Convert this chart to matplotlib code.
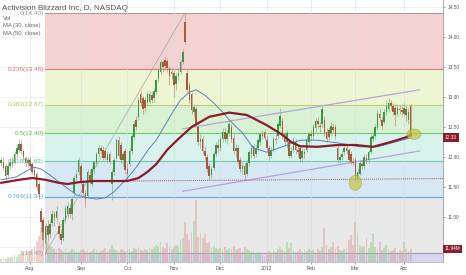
import matplotlib
matplotlib.use("Agg")
import matplotlib.pyplot as plt
import matplotlib.transforms as mtransforms
from matplotlib.patches import Ellipse
import numpy as np
import pandas as pd

plt.rcParams['font.family'] = ['Liberation Sans', 'DejaVu Sans']

# торговые дни 13.07.2011 - 05.04.2012
holidays = ['2011-09-05', '2011-11-24', '2011-12-26', '2012-01-02', '2012-01-16', '2012-02-20']
days = pd.bdate_range('2011-07-13', '2012-04-05', freq='C', holidays=holidays)

opens = [11.90, 11.92, 11.85, 11.70, 11.85, 11.92, 11.90, 12.05, 12.12, 12.22,
         12.10, 11.98, 11.90, 11.95, 11.88, 11.78, 11.72, 11.55, 11.10, 10.95,
         10.55, 10.85, 10.72, 10.90, 11.05, 10.98, 10.85, 10.72, 10.65, 10.95,
         11.05, 11.15, 11.05, 11.40, 11.65, 11.75, 11.85, 11.55, 11.40, 11.35,
         11.70, 11.55, 11.80, 11.90, 12.05, 12.15, 12.12, 12.10, 11.95, 12.05,
         11.55, 11.75, 11.98, 12.28, 12.20, 11.95, 12.10, 11.80, 11.88, 12.10,
         12.33, 12.62, 12.67, 13.05, 12.98, 12.95, 12.90, 12.92, 13.03, 12.98,
         13.08, 13.30, 13.42, 13.58, 13.62, 13.60, 13.48, 13.38, 13.40, 13.22,
         13.35, 13.42, 13.58, 14.25, 13.40, 13.20, 13.05, 12.75, 12.80, 12.50,
         12.25, 12.30, 12.10, 12.00, 11.85, 11.70, 11.82, 12.05, 12.20, 12.15,
         12.30, 12.42, 12.30, 12.40, 12.50, 12.32, 12.10, 12.15, 11.95, 11.80,
         11.85, 11.72, 11.90, 12.05, 12.18, 12.05, 12.15, 12.25, 12.38, 12.42,
         12.28, 12.15, 12.02, 12.12, 12.30, 12.35, 12.52, 12.60, 12.38, 12.25,
         12.25, 12.02, 12.12, 12.25, 12.12, 12.15, 11.98, 12.08, 12.12, 12.25,
         12.38, 12.35, 12.48, 12.60, 12.52, 12.55, 12.62, 12.42, 12.45, 12.40,
         12.50, 12.50, 12.15, 11.95, 12.00, 12.08, 12.15, 12.12, 12.05, 11.92,
         11.95, 11.62, 11.72, 11.88, 11.85, 11.98, 11.95, 12.08, 12.30, 12.35,
         12.48, 12.72, 12.62, 12.58, 12.75, 12.80, 12.90, 12.85, 12.82, 12.72,
         12.80, 12.78, 12.72, 12.80, 12.62, 12.85]
highs = [12.00, 11.98, 11.88, 11.90, 11.98, 12.00, 12.10, 12.22, 12.30, 12.28,
         12.14, 12.02, 12.00, 12.00, 11.92, 11.85, 11.75, 11.60, 11.15, 11.00,
         10.90, 10.95, 10.95, 11.12, 11.10, 11.18, 10.92, 10.80, 11.00, 11.20,
         11.25, 11.22, 11.35, 11.70, 11.78, 12.00, 11.90, 11.62, 11.45, 11.80,
         11.78, 11.85, 11.95, 12.08, 12.20, 12.20, 12.18, 12.15, 12.10, 12.08,
         11.80, 12.00, 12.32, 12.35, 12.25, 12.10, 12.15, 11.90, 12.15, 12.40,
         12.60, 12.68, 13.00, 13.10, 13.02, 13.00, 13.10, 13.10, 13.08, 13.15,
         13.30, 13.50, 13.62, 13.62, 13.66, 13.64, 13.52, 13.50, 13.45, 13.40,
         13.48, 13.62, 13.80, 14.40, 13.45, 13.25, 13.08, 12.88, 12.85, 12.55,
         12.38, 12.35, 12.18, 12.05, 11.90, 11.85, 12.10, 12.25, 12.30, 12.35,
         12.48, 12.50, 12.45, 12.62, 12.55, 12.38, 12.22, 12.20, 12.00, 11.92,
         11.90, 11.95, 12.12, 12.20, 12.22, 12.20, 12.32, 12.42, 12.45, 12.46,
         12.35, 12.20, 12.18, 12.35, 12.38, 12.60, 12.82, 12.65, 12.42, 12.45,
         12.30, 12.18, 12.33, 12.30, 12.22, 12.20, 12.15, 12.14, 12.35, 12.42,
         12.45, 12.55, 12.65, 12.66, 12.58, 12.85, 12.68, 12.48, 12.50, 12.58,
         12.55, 12.55, 12.20, 12.05, 12.10, 12.20, 12.20, 12.15, 12.10, 11.98,
         12.00, 11.80, 11.95, 11.95, 12.05, 12.05, 12.12, 12.38, 12.42, 12.55,
         12.78, 12.80, 12.66, 12.80, 12.95, 12.98, 12.95, 12.90, 12.88, 12.88,
         12.86, 12.85, 12.90, 12.85, 12.82, 12.88]
lows = [11.85, 11.78, 11.62, 11.66, 11.80, 11.84, 11.88, 12.00, 12.08, 12.05,
        11.95, 11.85, 11.84, 11.80, 11.72, 11.65, 11.45, 11.30, 10.75, 10.48,
        10.40, 10.60, 10.65, 10.85, 10.85, 10.90, 10.65, 10.55, 10.60, 10.90,
        10.98, 10.98, 10.95, 11.35, 11.58, 11.70, 11.55, 11.35, 11.17, 11.32,
        11.55, 11.50, 11.72, 11.85, 12.00, 12.05, 11.95, 11.95, 11.90, 11.88,
        11.28, 11.70, 11.95, 11.98, 11.90, 11.85, 11.72, 11.60, 11.85, 12.05,
        12.30, 12.45, 12.62, 12.85, 12.72, 12.75, 12.85, 12.88, 12.90, 12.92,
        13.05, 13.25, 13.38, 13.42, 13.45, 13.42, 13.20, 13.30, 13.00, 13.12,
        13.28, 13.38, 13.55, 13.88, 13.08, 12.90, 12.72, 12.68, 12.50, 12.20,
        12.15, 12.05, 11.95, 11.75, 11.62, 11.65, 11.78, 12.00, 12.08, 12.10,
        12.25, 12.25, 12.22, 12.35, 12.25, 12.05, 12.00, 11.88, 11.75, 11.72,
        11.62, 11.68, 11.85, 11.98, 11.98, 12.00, 12.10, 12.20, 12.30, 12.28,
        12.12, 11.95, 11.98, 12.08, 12.22, 12.30, 12.48, 12.30, 12.18, 12.15,
        11.98, 11.98, 12.08, 12.05, 12.00, 11.92, 11.92, 11.98, 12.08, 12.20,
        12.28, 12.30, 12.42, 12.48, 12.42, 12.50, 12.35, 12.25, 12.28, 12.35,
        12.40, 12.30, 11.90, 11.90, 11.95, 12.03, 12.05, 11.90, 11.88, 11.85,
        11.58, 11.58, 11.70, 11.80, 11.80, 11.90, 11.90, 12.05, 12.25, 12.30,
        12.45, 12.60, 12.45, 12.55, 12.70, 12.75, 12.80, 12.70, 12.52, 12.68,
        12.72, 12.70, 12.68, 12.60, 12.55, 12.30]
closes = [11.95, 11.82, 11.68, 11.85, 11.92, 11.88, 12.05, 12.15, 12.22, 12.10,
          12.00, 11.90, 11.95, 11.85, 11.75, 11.70, 11.50, 11.38, 10.92, 10.62,
          10.85, 10.70, 10.88, 11.05, 10.98, 11.10, 10.72, 10.62, 10.95, 11.15,
          11.18, 11.05, 11.30, 11.65, 11.72, 11.95, 11.60, 11.40, 11.30, 11.75,
          11.58, 11.80, 11.92, 12.05, 12.15, 12.10, 11.98, 11.98, 12.05, 11.92,
          11.75, 11.95, 12.28, 12.02, 11.95, 12.05, 11.78, 11.72, 12.10, 12.35,
          12.55, 12.50, 12.95, 12.90, 12.80, 12.82, 13.05, 13.05, 12.95, 13.10,
          13.28, 13.45, 13.58, 13.50, 13.52, 13.48, 13.35, 13.42, 13.20, 13.35,
          13.40, 13.58, 13.75, 13.92, 13.12, 12.95, 12.78, 12.83, 12.55, 12.25,
          12.30, 12.10, 12.02, 11.80, 11.68, 11.80, 12.05, 12.20, 12.15, 12.30,
          12.42, 12.30, 12.40, 12.55, 12.30, 12.10, 12.15, 11.92, 11.80, 11.85,
          11.70, 11.90, 12.08, 12.15, 12.02, 12.15, 12.28, 12.38, 12.35, 12.32,
          12.15, 12.02, 12.10, 12.30, 12.28, 12.55, 12.68, 12.35, 12.25, 12.40,
          12.02, 12.10, 12.28, 12.12, 12.08, 11.97, 12.10, 12.05, 12.30, 12.38,
          12.35, 12.50, 12.60, 12.55, 12.50, 12.80, 12.40, 12.30, 12.33, 12.52,
          12.45, 12.35, 11.95, 12.00, 12.05, 12.15, 12.10, 11.95, 11.92, 11.90,
          11.62, 11.75, 11.90, 11.85, 12.00, 11.95, 12.08, 12.33, 12.35, 12.50,
          12.73, 12.65, 12.52, 12.75, 12.85, 12.90, 12.85, 12.75, 12.70, 12.82,
          12.78, 12.75, 12.82, 12.70, 12.75, 12.33]
volumes = [3, 4, 3, 5, 4, 5, 6, 5, 7, 6, 8, 7, 9,
           10, 12, 15, 18, 24, 32, 28, 22,
           18, 15, 14, 12, 11, 13, 12, 10, 11, 9, 10, 12, 11, 10, 9, 11,
           12, 10, 11, 9, 10, 12, 11, 9, 10, 11, 13, 10, 12, 16, 12, 11, 10, 12, 11, 10,
           11, 12, 10, 13, 12, 14, 11, 10, 12, 11, 13, 12, 14, 16, 15, 18, 14, 13, 17, 15, 12,
           14, 16, 15, 20, 22, 37, 26, 20, 28, 38, 57, 23, 27, 22, 26, 17, 18, 14, 15, 13, 12,
           13, 12, 14, 11, 13, 12, 15, 11, 12, 13, 10, 14, 12, 11, 9, 10, 8, 9, 7, 6, 5,
           9, 10, 8, 11, 9, 12, 14, 11, 10, 18, 13, 17, 11, 9, 10, 12, 9, 11, 10, 12,
           10, 11, 9, 12, 10, 14, 31, 16, 12, 14, 18, 12, 15, 11, 10, 12, 13, 20, 25, 16,
           37, 27, 16, 14, 15, 22, 13, 18, 27, 14, 12, 18, 11, 13, 16, 12, 10, 11, 13, 9,
           11, 10, 18, 12, 10, 11.94]

# скользящие средние (номер бара, значение)
ma30_at = [0, 7, 12, 15, 18, 22, 28, 34, 39, 43, 47, 51, 57, 61, 67, 70, 74, 78, 81,
           85, 88, 92, 96, 100, 103, 109, 114, 120, 127, 135, 143, 153, 162, 170, 176, 185]
ma30 = [11.62, 11.67, 11.78, 11.83, 11.80, 11.70, 11.53, 11.37, 11.32, 11.30, 11.32,
        11.42, 11.65, 11.83, 12.15, 12.28, 12.53, 12.78, 12.95, 13.08, 13.12, 13.03,
        12.90, 12.75, 12.62, 12.40, 12.15, 12.08, 12.17, 12.28, 12.28, 12.23, 12.17,
        12.17, 12.23, 12.32]
ma50_at = [0, 8, 14, 20, 26, 30, 35, 42, 50, 57, 62, 66, 70, 75, 80, 86, 94, 103,
           111, 120, 127, 131, 135, 143, 152, 160, 168, 176, 183, 185]
ma50 = [11.57, 11.62, 11.65, 11.62, 11.57, 11.55, 11.58, 11.60, 11.60, 11.60, 11.65,
        11.75, 11.88, 12.12, 12.30, 12.50, 12.67, 12.74, 12.70, 12.53, 12.37, 12.25,
        12.18, 12.17, 12.20, 12.20, 12.17, 12.25, 12.33, 12.37]

fib_levels = ['0', '0.236', '0.382', '0.5', '0.618', '0.764', '1']
fib_prices = [14.40, 13.46, 12.87, 12.40, 11.93, 11.34, 10.40]
band_colors = ['#f4d2d2', '#eef5d3', '#d8f2d3', '#d8f3eb', '#d6e8f4', '#e8e8e8']
line_colors = ['#a0a0a0', '#e07a7a', '#b8d46c', '#6ccb6c', '#6dccb0', '#64aad9', '#a0a0a0']
label_colors = ['#9a9a9a', '#e06a6a', '#a8c850', '#55bb55', '#55bba5', '#55a0d2', '#8a8a8a']

month_names = ['Aug', 'Sep', 'Oct', 'Nov', 'Dec', '2012', 'Feb', 'Mar', 'Apr']

n = len(closes)
x = np.arange(n)
o = np.array(opens); h = np.array(highs); l = np.array(lows); c = np.array(closes)
up = c >= o

fig = plt.figure(figsize=(4.66, 2.75), dpi=100)
rect = [0, 13 / 275, 443 / 466, 262 / 275]
ax = fig.add_axes(rect)
xlim = (-0.56, 199.6)
ax.set_xlim(*xlim)
ax.set_ylim(10.25, 14.617)

# сетка
for p in np.arange(10.5, 14.51, 0.5):
    ax.axhline(p, color='#ececec', lw=0.5, zorder=0.1)

# уровни Фибоначчи
anchor = 20
fx0 = anchor - 0.2
for k in range(6):
    ax.fill_between([fx0, xlim[1]], fib_prices[k + 1], fib_prices[k],
                    color=band_colors[k], lw=0, zorder=0.3)
ax.fill_between([fx0, xlim[1]], 10.0, fib_prices[-1], color='#d8d4f3', lw=0, zorder=0.3)
for k, p in enumerate(fib_prices):
    ax.plot([fx0, xlim[1]], [p, p], color=line_colors[k], lw=0.8, zorder=0.4)
    ax.text(fx0 - 0.6, p, f'{fib_levels[k]}({p:.2f})', color=label_colors[k],
            fontsize=4.6, ha='right', va='center', zorder=5)

month_pos = []
for m in range(8, 17):
    yy, mm = (2011, m) if m <= 12 else (2012, m - 12)
    month_pos.append(int(np.argmax((days.year == yy) & (days.month == mm))))
for mp in month_pos:
    ax.axvline(mp, color='#dcdcdc', lw=0.6, alpha=0.7, zorder=0.5)

# трендовые линии
ax.plot([anchor, 83], [10.40, 14.40], color='#a8a8a8', lw=0.5, zorder=1)
ax.plot([82, 189], [12.47, 13.12], color='#b7a2dc', lw=0.9, zorder=1)
ax.plot([82, 189], [11.43, 12.10], color='#b7a2dc', lw=0.9, zorder=1)
ax.plot([59.5, xlim[1]], [11.60, 11.64], color='#a05555', lw=0.7, ls=(0, (1, 1)), zorder=1)

# свечи
body_col = np.where(up, '#3f9446', '#a85a3c')
wick_col = np.where(up, '#7fb88a', '#c28c78')
ax.vlines(x, l, h, colors=wick_col, lw=0.5, zorder=2)
ax.bar(x, np.maximum(np.abs(c - o), 0.012), bottom=np.minimum(o, c), width=0.72,
       color=body_col, lw=0, zorder=3)

# средние
ax.plot(ma30_at, ma30, color='#5d82b5', lw=0.7, zorder=4)
ax.plot(ma50_at, ma50, color='#8b1a2b', lw=1.6, zorder=4)

# выделения
for cx, cy, w, hh in [(160, 11.57, 5.6, 0.25), (186.5, 12.38, 6.4, 0.17)]:
    ax.add_patch(Ellipse((cx, cy), w, hh, fc='#c5c545', ec='#a8a838', lw=0.5,
                         alpha=0.7, zorder=5))

# оси
ax.yaxis.tick_right()
ax.set_yticks(np.arange(10.5, 14.51, 0.5))
ax.set_yticklabels([f'{v:.2f}' for v in np.arange(10.5, 14.51, 0.5)])
ax.tick_params(axis='y', labelsize=3.4, colors='#555555', length=1.5, width=0.4, pad=1.5)
ax.set_xticks(month_pos)
ax.set_xticklabels(month_names)
ax.tick_params(axis='x', labelsize=3.7, colors='#555555', length=1.2, width=0.4, pad=1.5)
for s in ['top', 'left']:
    ax.spines[s].set_visible(False)
ax.spines['right'].set_color('#9a9a9a')
ax.spines['bottom'].set_color('#bbbbbb')
ax.spines['right'].set_linewidth(0.6)
ax.spines['bottom'].set_linewidth(0.5)

# объём
vax = fig.add_axes(rect)
vax.patch.set_alpha(0)
vax.set_xlim(*xlim)
vax.set_ylim(0, 240.6)
vax.bar(x, volumes, width=0.8, color=np.where(up, '#8fd08f', '#e0a0a0'), alpha=0.5, lw=0)
vax.axis('off')

tr = mtransforms.blended_transform_factory(ax.transAxes, ax.transData)
ax.text(1.004, closes[-1], f'{closes[-1]:.2f}', transform=tr, fontsize=3.4, color='white',
        ha='left', va='center', clip_on=False, zorder=10,
        bbox=dict(boxstyle='square,pad=0.4', fc='#8b1a2b', ec='none'))
vtr = mtransforms.blended_transform_factory(vax.transAxes, vax.transData)
vax.text(1.004, volumes[-1], f'{volumes[-1]:.2f}M', transform=vtr, fontsize=3.4, color='white',
         ha='left', va='center', clip_on=False, zorder=10,
         bbox=dict(boxstyle='square,pad=0.4', fc='#8b1a2b', ec='none'))

# заголовок и легенда
fig.text(2 / 466, 1 - 9 / 275, 'Activision Blizzard Inc, D, NASDAQ', fontsize=5.8,
         color='#555555', va='center', ha='left')
for i, t in enumerate(['Vol', 'MA (30, close)', 'MA (50, close)']):
    fig.text(3 / 466, 1 - (18 + 8 * i) / 275, t, fontsize=4.2, color='#666666',
             va='center', ha='left')

plt.savefig('out.png', dpi=100)
